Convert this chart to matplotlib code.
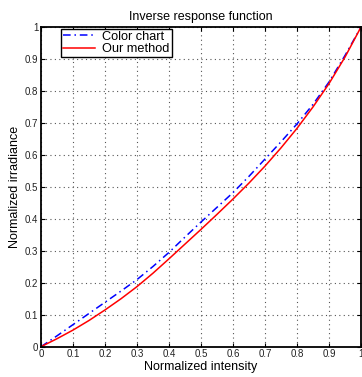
import matplotlib
matplotlib.use("Agg")
import matplotlib.pyplot as plt

# valores
x_vals = [0.0, 0.05, 0.1, 0.15, 0.2, 0.25, 0.3, 0.35, 0.4, 0.45, 0.5, 0.55, 0.6,
          0.65, 0.7, 0.75, 0.8, 0.85, 0.9, 0.95, 1.0]
color_chart = [0.0, 0.034, 0.069, 0.104, 0.139, 0.174, 0.21, 0.251, 0.295, 0.343, 0.39,
               0.436, 0.482, 0.533, 0.587, 0.641, 0.697, 0.758, 0.828, 0.911, 1.0]
our_method = [0.0, 0.025, 0.052, 0.082, 0.115, 0.15, 0.188, 0.23, 0.275, 0.321, 0.367,
              0.414, 0.462, 0.512, 0.565, 0.622, 0.683, 0.75, 0.823, 0.906, 1.0]
ticks = [0, 0.1, 0.2, 0.3, 0.4, 0.5, 0.6, 0.7, 0.8, 0.9, 1]
tick_labels = ["0", "0.1", "0.2", "0.3", "0.4", "0.5", "0.6", "0.7", "0.8", "0.9", "1"]

plt.rcParams['font.family'] = ['Liberation Sans', 'DejaVu Sans']

fig = plt.figure(figsize=(3.62, 3.77), dpi=100)
ax = fig.add_axes([0.1133, 0.0804, 0.884, 0.848])

ax.plot(x_vals, color_chart, color='blue', linestyle=(0, (5, 2.5, 1, 2.5)), linewidth=1.1, label='Color chart')
ax.plot(x_vals, our_method, color='red', linestyle='-', linewidth=1.1, label='Our method')

ax.set_xlim(0, 1)
ax.set_ylim(0, 1)
ax.set_xticks(ticks)
ax.set_xticklabels(tick_labels)
ax.set_yticks(ticks)
ax.set_yticklabels(tick_labels)
ax.tick_params(direction='in', length=3, labelsize=7, top=True, right=True, pad=2, labelcolor='#222222')
ax.grid(True, linestyle=(0, (1, 3)), color='#555555', linewidth=0.8)
for s in ax.spines.values():
    s.set_linewidth(1.3)

ax.set_title("Inverse response function", fontsize=9, pad=5)
ax.set_xlabel("Normalized intensity", fontsize=9, labelpad=1)
ax.set_ylabel("Normalized irradiance", fontsize=9, labelpad=3)

leg = ax.legend(loc='upper left', bbox_to_anchor=(0.062, 0.995), fontsize=9.2,
                fancybox=False, framealpha=1, edgecolor='black',
                borderpad=0.15, handlelength=2.5, labelspacing=0.05, borderaxespad=0,
                handletextpad=0.6)
leg.get_frame().set_linewidth(1.0)

fig.savefig("out.png", dpi=100)
